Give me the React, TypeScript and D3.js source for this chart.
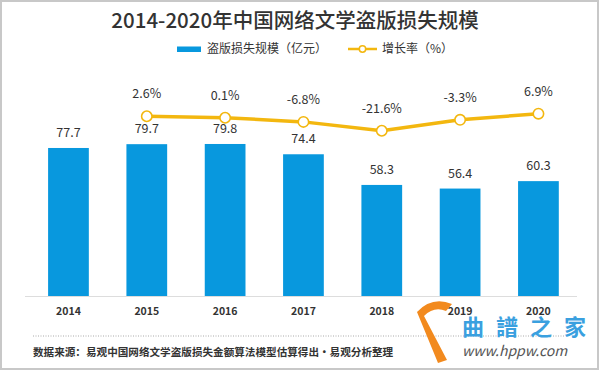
import React from 'react'
import * as d3 from 'd3'

const years = ['2014', '2015', '2016', '2017', '2018', '2019', '2020']
const lossValues = [77.7, 79.7, 79.8, 74.4, 58.3, 56.4, 60.3]
const growthYears = ['2015', '2016', '2017', '2018', '2019', '2020']
const growthValues = [2.6, 0.1, -6.8, -21.6, -3.3, 6.9]

const W = 600
const H = 371
const FONT = '"Noto Sans CJK SC", "Noto Sans", sans-serif'
const BLUE = '#0898DE'
const YELLOW = '#F3B70F'

export default function App() {
  const x = d3.scaleBand().domain(years).range([29.3, 577.6]).paddingInner(0.48).paddingOuter(0.24)
  const y = d3.scaleLinear().domain([0, 100]).range([296, 105.5])
  const y2 = d3.scaleLinear().domain([-100, 20]).range([177.8, 105.8])
  const cx = (d: string) => (x(d) as number) + x.bandwidth() / 2

  const line = d3.line<number>()
    .x((d, i) => cx(growthYears[i]))
    .y(d => y2(d))

  return (
    <svg width={W} height={H} style={{ position: 'fixed', left: 0, top: 0, background: '#fff' }} fontFamily={FONT}>
      <rect x={1} y={1} width={W - 3} height={H - 3} fill="#fff" stroke="#c8c8c8" strokeWidth={2} />

      <text x={295} y={28} textAnchor="middle" fontSize={20.5} fontWeight={500} fill="#333">2014-2020年中国网络文学盗版损失规模</text>

      {/* legend */}
      <rect x={177} y={46.5} width={24} height={5.5} fill={BLUE} />
      <text x={207} y={53} fontSize={12} fill="#333">盗版损失规模（亿元）</text>
      <line x1={348} x2={377} y1={49} y2={49} stroke={YELLOW} strokeWidth={2.5} />
      <circle cx={362.5} cy={49} r={3.2} fill="#fff" stroke={YELLOW} strokeWidth={1.5} />
      <text x={382} y={53} fontSize={12} fill="#333">增长率（%）</text>

      {/* bars */}
      {years.map((d, i) => (
        <g key={d}>
          <rect x={x(d)} y={y(lossValues[i])} width={x.bandwidth()} height={y(0) - y(lossValues[i])} fill={BLUE} />
          <text x={cx(d)} y={y(lossValues[i]) - 11} textAnchor="middle" fontSize={12.5} fill="#333">{lossValues[i]}</text>
          <text x={cx(d)} y={315} textAnchor="middle" fontSize={10.5} fontWeight={600} fill="#333">{d}</text>
        </g>
      ))}
      <line x1={25} x2={577} y1={296.5} y2={296.5} stroke="#ddd" strokeWidth={1} />

      {/* growth line */}
      <path d={line(growthValues) as string} fill="none" stroke={YELLOW} strokeWidth={3.5} strokeLinejoin="round" />
      {growthYears.map((d, i) => (
        <g key={d}>
          <circle cx={cx(d)} cy={y2(growthValues[i])} r={5.2} fill="#fff" stroke={YELLOW} strokeWidth={1.6} />
          <text x={cx(d)} y={y2(growthValues[i]) - 18} textAnchor="middle" fontSize={12.5} fill="#333">{growthValues[i].toFixed(1)}%</text>
        </g>
      ))}

      {/* source */}
      <line x1={33} x2={565} y1={336} y2={336} stroke="#aaa" strokeWidth={1} strokeDasharray="1,1.5" />
      <text x={33} y={356} fontSize={10.6} fontWeight={600} fill="#333">数据来源：易观中国网络文学盗版损失金额算法模型估算得出·易观分析整理</text>

      {/* site watermark */}
      <path d="M417,312 Q432,296 452,304 L446,311 Q434,306 424,316 L447,360 L438,363 Z" fill="#F28A1E" />
      <text x={462} y={335} fontSize={22} fontWeight={700} fill="#3AA0DF" letterSpacing={12}>曲譜之家</text>
      <text x={462} y={356} fontSize={14} fontStyle="italic" fill="#555">www.hppw.com</text>
    </svg>
  )
}
